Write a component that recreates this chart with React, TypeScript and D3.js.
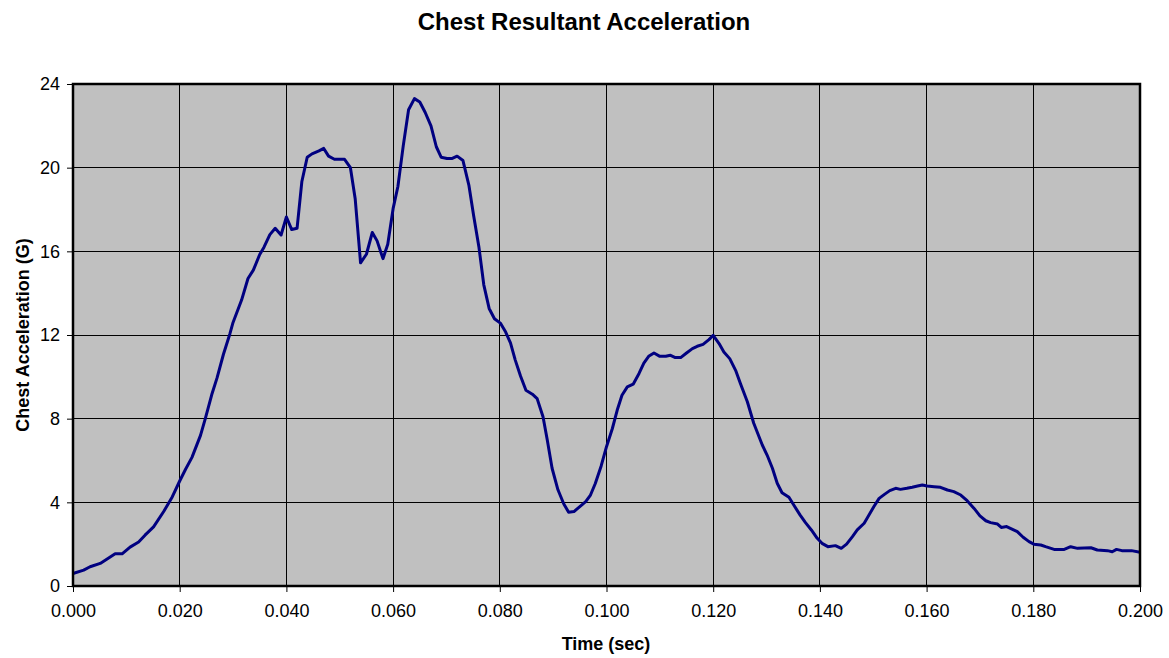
import { useEffect, useRef } from 'react';
import * as d3 from 'd3';

const WIDTH = 1169;
const HEIGHT = 658;

const TITLE = 'Chest Resultant Acceleration';
const X_LABEL = 'Time (sec)';
const Y_LABEL = 'Chest Acceleration (G)';

const X_TICKS = [0, 0.02, 0.04, 0.06, 0.08, 0.1, 0.12, 0.14, 0.16, 0.18, 0.2];
const Y_TICKS = [0, 4, 8, 12, 16, 20, 24];

// time (sec)
const TIMES = [
  0, 0.002, 0.0032, 0.0051, 0.0064, 0.0079, 0.0092, 0.0107, 0.0123, 0.0135,
  0.0151, 0.017, 0.0186, 0.02, 0.0211, 0.0223, 0.0239, 0.0248, 0.026, 0.027,
  0.0282, 0.0294, 0.03, 0.0316, 0.0328, 0.0338, 0.035, 0.0358, 0.0369, 0.0379,
  0.039, 0.04, 0.041, 0.042, 0.0429, 0.0439, 0.0448, 0.0461, 0.047, 0.0479,
  0.049, 0.0509, 0.052, 0.0529, 0.0539, 0.055, 0.0561, 0.057, 0.0581, 0.059,
  0.06, 0.0609, 0.0619, 0.0629, 0.064, 0.065, 0.066, 0.0671, 0.0681, 0.069,
  0.0701, 0.0711, 0.072, 0.0731, 0.0742, 0.0751, 0.0761, 0.077, 0.078, 0.079,
  0.0801, 0.0811, 0.082, 0.0829, 0.0839, 0.0849, 0.0861, 0.087, 0.0881, 0.0889,
  0.0898, 0.0909, 0.092, 0.0929, 0.0939, 0.095, 0.0961, 0.097, 0.0979, 0.099,
  0.1, 0.1011, 0.102, 0.1029, 0.1039, 0.105, 0.1061, 0.107, 0.1079, 0.1089,
  0.11, 0.1111, 0.112, 0.1129, 0.1139, 0.115, 0.1161, 0.117, 0.1181, 0.1192,
  0.12, 0.1211, 0.122, 0.1231, 0.1242, 0.1251, 0.1264, 0.1276, 0.1292, 0.1301,
  0.1311, 0.132, 0.1329, 0.1342, 0.1351, 0.1363, 0.1373, 0.1384, 0.1395, 0.1404,
  0.1415, 0.1429, 0.144, 0.145, 0.1461, 0.147, 0.1483, 0.1492, 0.1501, 0.1511,
  0.1521, 0.1531, 0.1542, 0.1551, 0.1563, 0.1573, 0.1583, 0.1592, 0.1601, 0.1614,
  0.1626, 0.1639, 0.1651, 0.1664, 0.1676, 0.1689, 0.17, 0.1711, 0.172, 0.1733,
  0.174, 0.175, 0.1761, 0.177, 0.1781, 0.1792, 0.1801, 0.1814, 0.1823, 0.1839,
  0.1858, 0.187, 0.1883, 0.1908, 0.192, 0.1939, 0.1948, 0.1956, 0.1966, 0.1984,
  0.2,
];

// chest resultant acceleration (G)
const ACCEL = [
  0.6, 0.76, 0.92, 1.08, 1.29, 1.54, 1.54, 1.86, 2.1, 2.43,
  2.83, 3.56, 4.26, 5.02, 5.58, 6.15, 7.2, 8.0, 9.14, 9.95,
  11.08, 12.05, 12.6, 13.67, 14.7, 15.1, 15.85, 16.2, 16.8, 17.1,
  16.78, 17.64, 17.04, 17.1, 19.34, 20.5, 20.66, 20.8, 20.92, 20.55,
  20.4, 20.4, 20.0, 18.5, 15.45, 15.86, 16.9, 16.5, 15.65, 16.34,
  18.04, 19.1, 21.04, 22.77, 23.3, 23.14, 22.65, 22.0, 21.0, 20.5,
  20.44, 20.44, 20.55, 20.34, 19.17, 17.7, 16.18, 14.4, 13.27, 12.78,
  12.57, 12.14, 11.62, 10.8, 10.03, 9.36, 9.17, 8.96, 8.09, 6.98,
  5.63, 4.6, 3.92, 3.53, 3.56, 3.8, 4.03, 4.35, 4.9, 5.74,
  6.66, 7.53, 8.4, 9.12, 9.52, 9.65, 10.16, 10.66, 10.98, 11.14,
  10.98, 10.98, 11.03, 10.92, 10.92, 11.14, 11.35, 11.46, 11.55, 11.78,
  11.98, 11.59, 11.19, 10.87, 10.31, 9.68, 8.81, 7.78, 6.74, 6.26,
  5.63, 4.91, 4.46, 4.24, 3.87, 3.39, 3.03, 2.68, 2.28, 2.04,
  1.88, 1.93, 1.8, 2.0, 2.36, 2.68, 3.0, 3.39, 3.79, 4.19,
  4.38, 4.56, 4.67, 4.62, 4.67, 4.72, 4.78, 4.83, 4.78, 4.75,
  4.72, 4.59, 4.51, 4.35, 4.08, 3.71, 3.35, 3.12, 3.03, 2.96,
  2.8, 2.84, 2.71, 2.6, 2.33, 2.12, 2.0, 1.96, 1.88, 1.75,
  1.75, 1.88, 1.8, 1.83, 1.72, 1.69, 1.64, 1.75, 1.69, 1.69,
  1.61,
];

export default function App() {
  const svgRef = useRef<SVGSVGElement>(null);

  useEffect(() => {
    if (!svgRef.current) return;
    const svg = d3.select(svgRef.current);
    svg.selectAll('*').remove();

    const left = 73;
    const right = 1140;
    const top = 84;
    const bottom = 586;
    const font = 'Liberation Sans, Arial, sans-serif';

    const x = d3.scaleLinear().domain([0, 0.2]).range([left, right]);
    const y = d3.scaleLinear().domain([0, 24]).range([bottom, top]);

    // plot area
    svg.append('rect')
      .attr('x', left).attr('y', top)
      .attr('width', right - left).attr('height', bottom - top)
      .attr('fill', '#c0c0c0');

    // grid
    const grid = svg.append('g').attr('stroke', '#000').attr('stroke-width', 1).attr('shape-rendering', 'crispEdges');
    grid.selectAll('.vg').data(X_TICKS.slice(1, -1)).enter().append('line')
      .attr('x1', d => x(d)).attr('x2', d => x(d)).attr('y1', top).attr('y2', bottom);
    grid.selectAll('.hg').data(Y_TICKS.slice(1, -1)).enter().append('line')
      .attr('y1', d => y(d)).attr('y2', d => y(d)).attr('x1', left).attr('x2', right);

    // axes
    const xAxis = d3.axisBottom(x).tickValues(X_TICKS).tickFormat(d3.format('.3f')).tickSize(6).tickPadding(12);
    const yAxis = d3.axisLeft(y).tickValues(Y_TICKS).tickFormat(d3.format('d')).tickSize(6).tickPadding(7);

    const gx = svg.append('g').attr('transform', `translate(0,${bottom})`).call(xAxis);
    const gy = svg.append('g').attr('transform', `translate(${left},0)`).call(yAxis);
    [gx, gy].forEach(g => {
      g.select('.domain').remove();
      g.selectAll('line').attr('stroke', '#000');
      g.selectAll('text').attr('font-family', font).attr('font-size', 18).attr('fill', '#000');
    });

    // data line
    const points: [number, number][] = TIMES.map((t, i) => [t, ACCEL[i]]);
    const line = d3.line<[number, number]>().x(d => x(d[0])).y(d => y(d[1]));
    svg.append('path')
      .datum(points)
      .attr('d', line)
      .attr('fill', 'none')
      .attr('stroke', '#000080')
      .attr('stroke-width', 3)
      .attr('stroke-linejoin', 'round');

    // border
    svg.append('rect')
      .attr('x', left).attr('y', top)
      .attr('width', right - left).attr('height', bottom - top)
      .attr('fill', 'none').attr('stroke', '#000').attr('stroke-width', 2.5);

    // titles
    svg.append('text')
      .attr('x', 584).attr('y', 30)
      .attr('text-anchor', 'middle')
      .attr('font-family', font).attr('font-size', 24).attr('font-weight', 'bold')
      .text(TITLE);

    svg.append('text')
      .attr('x', 606).attr('y', 650)
      .attr('text-anchor', 'middle')
      .attr('font-family', font).attr('font-size', 18).attr('font-weight', 'bold')
      .text(X_LABEL);

    svg.append('text')
      .attr('transform', `translate(29,${(top + bottom) / 2}) rotate(-90)`)
      .attr('text-anchor', 'middle')
      .attr('font-family', font).attr('font-size', 18).attr('font-weight', 'bold')
      .text(Y_LABEL);
  }, []);

  return (
    <svg
      ref={svgRef}
      width={WIDTH}
      height={HEIGHT}
      style={{ position: 'absolute', left: 0, top: 0, background: '#fff' }}
    />
  );
}
